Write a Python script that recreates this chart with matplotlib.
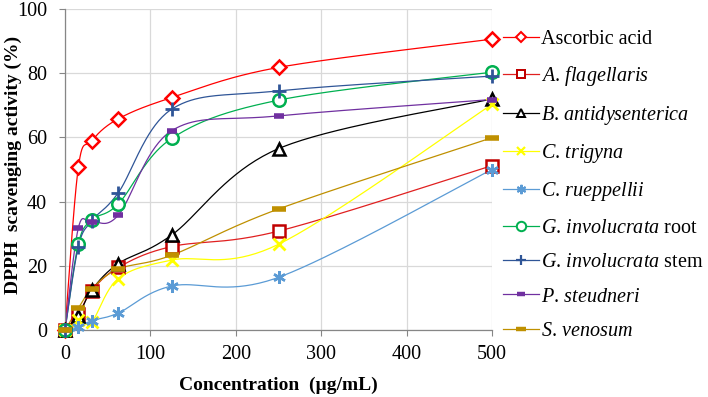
import numpy as np
import matplotlib
matplotlib.use("Agg")
import matplotlib.pyplot as plt

plt.rcParams['font.family'] = ['Liberation Serif', 'DejaVu Serif']
plt.rcParams['mathtext.fontset'] = 'custom'
plt.rcParams['mathtext.rm'] = 'Liberation Serif'
plt.rcParams['mathtext.it'] = 'Liberation Serif:italic'

# concentrations (ug/mL)
conc = [0, 15.625, 31.25, 62.5, 125, 250, 500]

ascorbic = [0, 50.7, 58.9, 65.8, 72.4, 81.8, 90.6]
a_flag = [0, 5.0, 12.2, 19.5, 26.0, 30.8, 51.2]
b_anti = [0, 4.4, 12.4, 20.7, 29.6, 56.5, 72.0]
c_trig = [0, 3.0, 2.5, 16.0, 21.8, 26.7, 70.3]
c_ruep = [0, 1.0, 2.9, 5.3, 13.7, 16.4, 50.0]
g_root = [0, 26.8, 34.3, 39.3, 59.7, 71.6, 80.3]
g_stem = [0, 26.0, 34.0, 42.8, 68.8, 74.5, 79.1]
p_steu = [0, 31.8, 33.7, 35.8, 62.1, 66.7, 71.8]
s_veno = [0, 6.8, 12.8, 19.0, 23.3, 37.7, 59.9]

labels = ['Ascorbic acid', r'$\it{A.\,flagellaris}$', r'$\it{B.\,antidysenterica}$',
          r'$\it{C.\,trigyna}$', r'$\it{C.\,rueppellii}$', r'$\it{G.\,involucrata}$ root',
          r'$\it{G.\,involucrata}$ stem', r'$\it{P.\,steudneri}$', r'$\it{S.\,venosum}$']


def smooth(x, y, n=40):
    # Excel-like smoothed scatter line (Catmull-Rom as Bezier)
    p = np.column_stack([x, y]).astype(float)
    p = np.vstack([p[0], p, p[-1]])
    out = []
    t = np.linspace(0, 1, n)[:, None]
    for i in range(1, len(p) - 2):
        p0, p3 = p[i], p[i + 1]
        c1 = p0 + (p[i + 1] - p[i - 1]) / 6
        c2 = p3 - (p[i + 2] - p[i]) / 6
        seg = ((1 - t) ** 3) * p0 + 3 * ((1 - t) ** 2) * t * c1 + 3 * (1 - t) * t ** 2 * c2 + t ** 3 * p3
        out.append(seg)
    out = np.vstack(out)
    return out[:, 0], out[:, 1]


series = [ascorbic, a_flag, b_anti, c_trig, c_ruep, g_root, g_stem, p_steu, s_veno]
styles = [
    dict(color='#FF0000', marker='D', ms=7, mfc='white', mec='#FF0000', mew=1.8),
    dict(color='#E02020', marker='s', ms=8, mfc='white', mec='#C00000', mew=1.8),
    dict(color='#000000', marker='^', ms=8, mfc='white', mec='#000000', mew=1.8),
    dict(color='#FFFF00', marker='x', ms=8, mfc='none', mec='#FFFF00', mew=2),
    dict(color='#5B9BD5', marker=(6, 2, 0), ms=9, mfc='none', mec='#5B9BD5', mew=1.8),
    dict(color='#00B050', marker='o', ms=9, mfc='white', mec='#00B050', mew=1.8),
    dict(color='#2F5597', marker='+', ms=10, mfc='none', mec='#2F5597', mew=2),
    dict(color='#7030A0', marker='_', ms=7, mfc='none', mec='#7030A0', mew=4),
    dict(color='#BF9000', marker='_', ms=10, mfc='none', mec='#BF9000', mew=4),
]

fig = plt.figure(figsize=(7.08, 3.97), dpi=100)
ax = fig.add_axes([65 / 708, 67 / 397, 427 / 708, 321 / 397])

handles = []
for y, st, lab in zip(series, styles, labels):
    sx, sy = smooth(conc, y)
    ax.plot(sx, sy, color=st['color'], lw=0.9, zorder=2, clip_on=False)
    ax.plot(conc, y, ls='none', marker=st['marker'], ms=st['ms'], mfc=st['mfc'],
            mec=st['mec'], mew=st['mew'], zorder=3, clip_on=False)
    h, = ax.plot([], [], color=st['color'], lw=0.9, marker=st['marker'],
                 ms=st['ms'] * 0.75, mfc=st['mfc'], mec=st['mec'], mew=st['mew'] * 0.8, label=lab)
    handles.append(h)

ax.set_xlim(0, 500)
ax.set_ylim(0, 100)
ax.set_xticks([0, 100, 200, 300, 400, 500])
ax.set_yticks([0, 20, 40, 60, 80, 100])
ax.grid(True, color='#D9D9D9', lw=0.9)
ax.set_axisbelow(True)
for s in ['top', 'right']:
    ax.spines[s].set_visible(False)
for s in ['left', 'bottom']:
    ax.spines[s].set_color('#868686')
    ax.spines[s].set_linewidth(0.9)
ax.tick_params(direction='out', length=4, color='#868686', labelsize=14.5)
ax.tick_params(axis='x', pad=7)
ax.tick_params(axis='y', pad=9)

ax.set_xlabel('Concentration  (\u00b5g/mL)', fontsize=14, fontweight='bold', labelpad=9)
ax.set_ylabel('DPPH  scavenging activity (%)', fontsize=14, fontweight='bold')
ax.yaxis.set_label_coords(-0.101, 0.514)

fig.legend(handles=handles, loc='upper left', bbox_to_anchor=(503 / 708, 1 - 30 / 397),
           frameon=False, fontsize=14.5, handlelength=1.8, handletextpad=0.1,
           labelspacing=0.76, borderaxespad=0, borderpad=0)

fig.savefig('out.png', dpi=100)
